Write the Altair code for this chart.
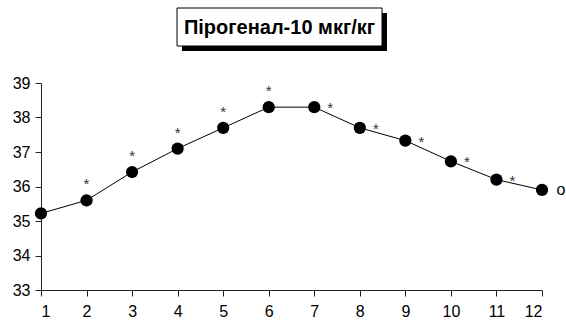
import altair as alt
import pandas as pd

hours = [1, 2, 3, 4, 5, 6, 7, 8, 9, 10, 11, 12]
temps = [35.22, 35.6, 36.42, 37.1, 37.7, 38.3, 38.3, 37.7, 37.33, 36.73, 36.2, 35.9]
marks = ["", "*", "*", "*", "*", "*", "*", "*", "*", "*", "*", "o"]
mark_pos = ["", "above", "above", "above", "above", "above", "right", "right", "right", "right", "right", "o"]
title_text = "Пірогенал-10 мкг/кг"

df = pd.DataFrame({"x": hours, "y": temps, "m": marks, "pos": mark_pos})

FONT = "Liberation Sans"
xs = alt.X("x:Q", scale=alt.Scale(domain=[1, 12], nice=False, zero=False),
           axis=alt.Axis(values=hours, title=None, grid=False, labelFontSize=16,
                         labelFont=FONT, labelColor="black", domainColor="#222222",
                         tickColor="#222222", tickSize=6, labelPadding=7, format="d"))
ys = alt.Y("y:Q", scale=alt.Scale(domain=[33, 39], nice=False, zero=False),
           axis=alt.Axis(values=[33, 34, 35, 36, 37, 38, 39], title=None, grid=False,
                         labelFontSize=16, labelFont=FONT, labelColor="black",
                         domainColor="#222222", tickColor="#222222", tickSize=6,
                         labelPadding=5, format="d"))

base = alt.Chart(df)
line = base.mark_line(color="black", strokeWidth=1).encode(x=xs, y=ys)
pts = base.mark_point(filled=True, color="black", size=150, opacity=1).encode(x=xs, y=ys)

above = base.transform_filter("datum.pos == 'above'").mark_text(
    fontSize=15, font=FONT, dy=-16, color="#333333").encode(x=xs, y=ys, text="m:N")
right = base.transform_filter("datum.pos == 'right'").mark_text(
    fontSize=15, font=FONT, dx=16, dy=1, color="#333333").encode(x=xs, y=ys, text="m:N")
oo = base.transform_filter("datum.pos == 'o'").mark_text(
    fontSize=16, font=FONT, dx=19, dy=0, color="black").encode(x=xs, y=ys, text="m:N")

tdf = pd.DataFrame({"t": [title_text]})
shadow = alt.Chart(tdf).mark_rect(color="black").encode(
    x=alt.value(141), x2=alt.value(346), y=alt.value(-70), y2=alt.value(-32))
box = alt.Chart(tdf).mark_rect(color="white", stroke="black", strokeWidth=1).encode(
    x=alt.value(136), x2=alt.value(341), y=alt.value(-75), y2=alt.value(-37))
ttl = alt.Chart(tdf).mark_text(fontSize=20, font=FONT, fontWeight="bold", color="black").encode(
    x=alt.value(238.5), y=alt.value(-55), text="t:N")

chart = alt.layer(shadow, box, ttl, line, pts, above, right, oo).properties(
    width=501, height=207,
    autosize=alt.AutoSizeParams(type="none"),
    padding={"left": 41, "top": 83, "right": 24, "bottom": 35},
).configure_view(stroke=None)

chart.save("out.html", embed_options={"renderer": "svg", "actions": False})
